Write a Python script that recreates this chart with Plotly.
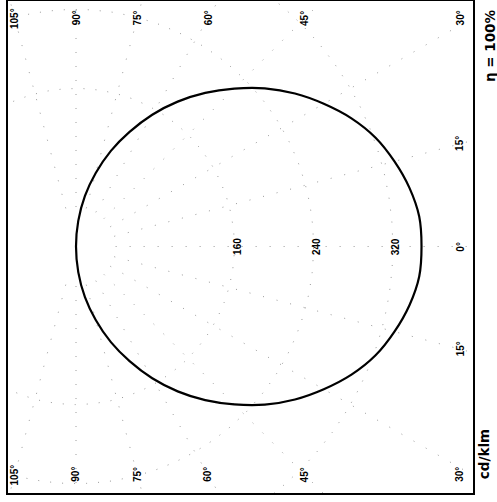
import numpy as np
import plotly.graph_objects as go

# Luminous intensity distribution (cd/klm), symmetric, gamma angles 0..90 deg
gamma_deg = [0, 5, 10, 15, 20, 25, 30, 35, 40, 45, 50, 55, 60, 65, 70, 75, 80, 85, 90]
intensity = [349, 348, 342, 333, 322, 307, 289, 270, 249, 226, 203, 179, 154, 128, 103, 77, 52, 26, 0]

grid_radii = [160, 240, 320]
radial_labels = ["160", "240", "320"]
ray_angles = [-105, -90, -75, -60, -45, -30, -15, 0, 15, 30, 45, 60, 75, 90, 105]
top_labels = [105, 90, 75, 60, 45, 30]
side_labels = [15, 0, -15]

fig = go.Figure()

# faint dotted grid: circles
t = np.linspace(0, 2 * np.pi, 400)
for r in grid_radii:
    fig.add_trace(go.Scatter(x=r * np.cos(t), y=r * np.sin(t), mode="lines",
                             line=dict(color="#9a9a9a", width=1, dash="1px,11px"),
                             hoverinfo="skip", showlegend=False))
# faint dotted grid: rays
for a in ray_angles:
    ar = np.radians(a)
    fig.add_trace(go.Scatter(x=[40 * np.cos(ar), 700 * np.cos(ar)],
                             y=[40 * np.sin(ar), 700 * np.sin(ar)], mode="lines",
                             line=dict(color="#9a9a9a", width=1, dash="1px,13px"),
                             hoverinfo="skip", showlegend=False))

# intensity curve (mirrored for -90..90)
g = np.array([-v for v in gamma_deg[::-1]] + gamma_deg[1:], dtype=float)
I = np.array(intensity[::-1] + intensity[1:], dtype=float)
fig.add_trace(go.Scatter(x=I * np.cos(np.radians(g)), y=I * np.sin(np.radians(g)),
                         mode="lines", line=dict(color="black", width=2.2, shape="spline"),
                         hoverinfo="skip", showlegend=False))

font_small = dict(family="Liberation Sans", size=10, color="black")
ann = []
# radial value labels
for r, lab in zip(grid_radii, radial_labels):
    ann.append(dict(x=r + 3, y=0, text=f"<b>{lab}</b>", showarrow=False, textangle=-90,
                    font=font_small, xanchor="center", yanchor="middle"))
# angle labels along top and bottom edges
label_y = 231
label_x = 388
for a in top_labels:
    xx = label_y / np.tan(np.radians(a)) if a != 90 else 0
    xx = min(xx, label_x)
    for s in (1, -1):
        ann.append(dict(x=xx, y=s * label_y, text=f"<b>{a}°</b>", showarrow=False,
                        textangle=-90, font=font_small, xanchor="center", yanchor="middle"))
# angle labels along right edge
for a in side_labels:
    ann.append(dict(x=label_x, y=label_x * np.tan(np.radians(a)), text=f"<b>{abs(a)}°</b>",
                    showarrow=False, textangle=-90, font=font_small,
                    xanchor="center", yanchor="middle"))

font_big = dict(family="DejaVu Sans", size=13.5, color="black")
ann.append(dict(xref="paper", yref="paper", x=1.0, y=0.9085, xanchor="center", yanchor="middle",
                xshift=17, text="<b>η = 100%</b>", showarrow=False, textangle=-90, font=font_big))
ann.append(dict(xref="paper", yref="paper", x=1.0, y=0.079, xanchor="center", yanchor="middle",
                xshift=11, text="<b>cd/klm</b>", showarrow=False, textangle=-90, font=font_big))

fig.update_layout(
    width=497, height=502,
    margin=dict(l=8, r=24, t=1, b=9, autoexpand=False),
    paper_bgcolor="white", plot_bgcolor="white",
    annotations=ann,
    xaxis=dict(range=[-68.7, 401], showgrid=False, zeroline=False, showticklabels=False,
               ticks="", showline=True, mirror=True, linecolor="black", linewidth=2),
    yaxis=dict(range=[-249.5, 248.5], showgrid=False, zeroline=False, showticklabels=False,
               ticks="", showline=True, mirror=True, linecolor="black", linewidth=2),
)

fig.write_html("out.html", config={"displayModeBar": False},
               post_script="document.body.style.margin='0';")
